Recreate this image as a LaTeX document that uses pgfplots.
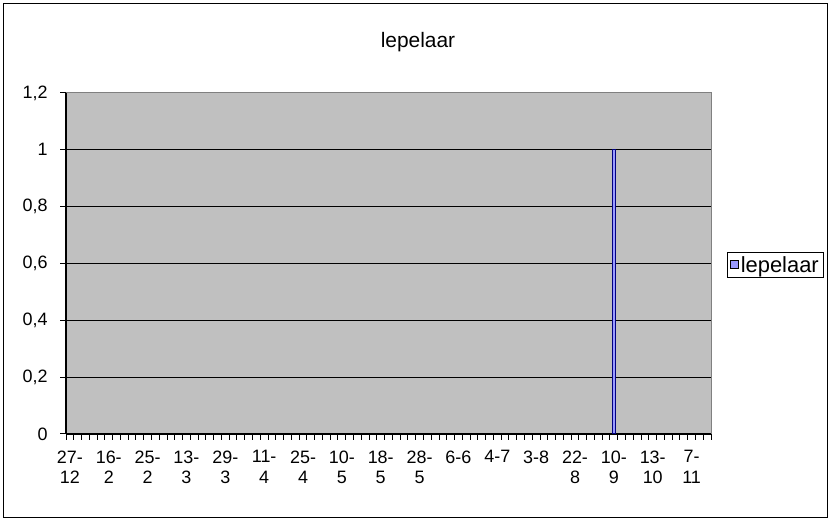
\documentclass[border=0pt]{standalone}
\usepackage{fontspec}
\setmainfont{Liberation Sans}
\usepackage{pgfplots}
\pgfplotsset{compat=1.18}
\definecolor{plotgray}{HTML}{C0C0C0}
\definecolor{bordergray}{HTML}{808080}
\definecolor{barfill}{HTML}{9999FF}
\definecolor{barline}{HTML}{000080}
\begin{document}
\begin{tikzpicture}[x=1bp,y=1bp]
\path[use as bounding box] (0,0) rectangle (831,522);
\draw[black, line width=1bp] (3.5,4.5) rectangle (827,518.5);
\node[font=\fontsize{21}{25}\selectfont] at (418,480) {lepelaar};
\begin{axis}[
    at={(66bp,88bp)}, anchor=south west,
    scale only axis,
    width=645bp, height=341bp,
    xmin=-0.5, xmax=82.5,
    ymin=0, ymax=1.2,
    axis x line=bottom, axis y line=left,
    axis line style={-, black, line width=1.2bp},
    axis background/.style={fill=plotgray, draw=bordergray, line width=1bp},
    major tick length=0pt,
    minor tick length=6bp,
    tick align=outside,
    tick style={black, line width=1bp},
    xtick={0,5,...,80},
    xticklabels={{27-\\12},{16-\\2},{25-\\2},{13-\\3},{29-\\3},{11-\\4},{25-\\4},{10-\\5},{18-\\5},{28-\\5},{6-6},{4-7},{3-8},{22-\\8},{10-\\9},{13-\\10},{7-\\11}},
    minor xtick={-0.5,0.5,...,82.5},
    ytick={0,0.2,0.4,0.6,0.8,1,1.2},
    minor ytick={0,0.2,0.4,0.6,0.8,1,1.2},
    extra y ticks={0.2,0.4,0.6,0.8,1},
    extra y tick labels={},
    extra y tick style={grid=major, major grid style={black, line width=1.2bp}},
    /pgf/number format/assume math mode=true,
    /pgf/number format/use comma,
    tick label style={font=\fontsize{18}{20.5}\selectfont},
    xticklabel style={align=center, anchor=north, yshift=-13bp},
    yticklabel style={anchor=east, xshift=-15bp},
    legend style={at={(1.0248,0.496)}, anchor=west, draw=black, line width=1bp,
        fill=white, font=\fontsize{22}{26}\selectfont, inner xsep=2.5bp, inner ysep=2bp},
    legend image code/.code={\draw[#1, draw=black, line width=0.8bp] (2.5bp,-4bp) rectangle (10.5bp,4bp);},
]
\addplot[ybar, bar width=3.5bp, fill=barfill, draw=barline, line width=1.2bp] coordinates {(70,1)};
\addlegendentry{lepelaar}
\end{axis}
\end{tikzpicture}
\end{document}
